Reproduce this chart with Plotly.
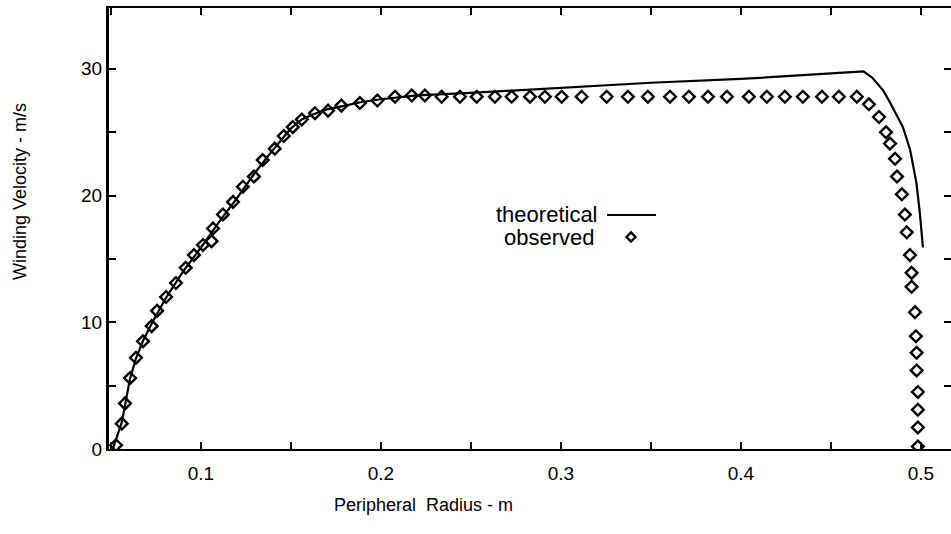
import plotly.graph_objects as go

# theoretical winding velocity curve
theo_radius = [0.051, 0.0535, 0.056, 0.058, 0.0605, 0.064, 0.068, 0.073, 0.080, 0.090,
               0.100, 0.110, 0.120, 0.130, 0.140, 0.150, 0.156, 0.162, 0.170, 0.180,
               0.190, 0.200, 0.220, 0.250, 0.300, 0.350, 0.400, 0.450, 0.462, 0.468,
               0.473, 0.479, 0.483, 0.490, 0.494, 0.4975, 0.4994, 0.5011]
theo_velocity = [0.0, 1.0, 2.1, 3.6, 5.5, 7.2, 8.6, 10.0, 11.8, 14.0,
                 15.9, 17.9, 19.8, 21.8, 23.6, 25.3, 26.0, 26.4, 26.8, 27.1,
                 27.4, 27.6, 27.9, 28.1, 28.5, 28.9, 29.2, 29.6, 29.75, 29.8,
                 29.3, 28.3, 27.3, 25.4, 23.6, 21.0, 18.6, 15.9]

# observed points
obs_radius = [0.0528, 0.0560, 0.0578, 0.0606, 0.0639, 0.0678, 0.0726, 0.0756, 0.0806, 0.0861,
              0.0915, 0.0961, 0.1011, 0.1059, 0.1067, 0.1122, 0.1178, 0.1233, 0.1294, 0.1343,
              0.1410, 0.1460, 0.1510, 0.1560, 0.1633, 0.1706, 0.1780, 0.1883, 0.1980, 0.2078,
              0.2171, 0.2244, 0.2337, 0.2439, 0.2532, 0.2633, 0.2726, 0.2828, 0.2911, 0.3004,
              0.3115, 0.3254, 0.3372, 0.3483, 0.3606, 0.3711, 0.3817, 0.3922, 0.4044, 0.4144,
              0.4244, 0.4344, 0.4450, 0.4544, 0.4644, 0.4711, 0.4767, 0.4806, 0.4828, 0.4856,
              0.4867, 0.4894, 0.4911, 0.4921, 0.4939, 0.4948, 0.4948, 0.4967, 0.4972, 0.4976,
              0.4976, 0.4983, 0.4983, 0.4983, 0.4983]
obs_velocity = [0.3, 2.0, 3.6, 5.6, 7.2, 8.5, 9.7, 10.9, 12.0, 13.1,
                14.3, 15.3, 16.1, 16.4, 17.4, 18.5, 19.5, 20.7, 21.5, 22.8,
                23.7, 24.7, 25.4, 26.0, 26.5, 26.7, 27.1, 27.3, 27.5, 27.8,
                27.9, 27.9, 27.8, 27.8, 27.8, 27.8, 27.8, 27.8, 27.8, 27.8,
                27.8, 27.8, 27.8, 27.8, 27.8, 27.8, 27.8, 27.8, 27.8, 27.8,
                27.8, 27.8, 27.8, 27.8, 27.8, 27.2, 26.2, 25.0, 24.1, 22.9,
                21.5, 20.1, 18.5, 17.1, 15.3, 13.9, 12.8, 10.8, 8.9, 7.6,
                6.2, 4.5, 3.1, 1.7, 0.2]

x_ticks = [0.05, 0.1, 0.15, 0.2, 0.25, 0.3, 0.35, 0.4, 0.45, 0.5]
x_labels = ["", "0.1", "", "0.2", "", "0.3", "", "0.4", "", "0.5"]
y_ticks = [0, 5, 10, 15, 20, 25, 30]
y_labels = ["0", "", "10", "", "20", "", "30"]

W, H = 951, 534
L, R, T, B = 109, 0, 8, 85
FONT = "Liberation Sans, Arial, sans-serif"


def px(x, y):
    """pixel position -> paper coords (for legend keys / labels)"""
    return (x - L) / (W - L - R), (H - B - y) / (H - T - B)


fig = go.Figure()
fig.add_trace(go.Scatter(x=theo_radius, y=theo_velocity, mode='lines',
                         line=dict(color='black', width=2.2), showlegend=False))
fig.add_trace(go.Scatter(x=obs_radius, y=obs_velocity, mode='markers',
                         marker=dict(symbol='diamond-open', size=9, color='black',
                                     line=dict(width=2.4, color='black')),
                         showlegend=False))

axis_common = dict(showline=True, linecolor='black', mirror='ticks',
                   ticks='inside', ticklen=7, tickwidth=1.5, tickcolor='black',
                   showgrid=False, zeroline=False, automargin=False,
                   tickfont=dict(family=FONT, size=19, color='black'))

fig.update_layout(
    width=W, height=H,
    margin=dict(l=L, r=R, t=T, b=B),
    plot_bgcolor='white', paper_bgcolor='white',
    xaxis=dict(range=[0.0489, 0.5167], tickvals=x_ticks, ticktext=x_labels,
               linewidth=2, ticklabelstandoff=6, **axis_common),
    yaxis=dict(range=[0, 34.8], tickvals=y_ticks, ticktext=y_labels,
               linewidth=3, **axis_common),
)

# axis titles
ax, ay = px(423, 505)
fig.add_annotation(x=ax, y=ay, xref='paper', yref='paper', text="Peripheral  Radius - m",
                   showarrow=False, xanchor='center', yanchor='middle',
                   font=dict(family=FONT, size=18, color='black'))
ax, ay = px(20, 192)
fig.add_annotation(x=ax, y=ay, xref='paper', yref='paper', text="Winding Velocity - m/s",
                   showarrow=False, textangle=-90, xanchor='center', yanchor='middle',
                   font=dict(family=FONT, size=18, color='black'))

# legend (text on the left, key on the right)
ax, ay = px(600, 214)
fig.add_annotation(x=ax, y=ay, xref='paper', yref='paper', text="theoretical",
                   showarrow=False, xanchor='right', yanchor='middle',
                   font=dict(family=FONT, size=22, color='black'))
ax, ay = px(597, 237)
fig.add_annotation(x=ax, y=ay, xref='paper', yref='paper', text="observed",
                   showarrow=False, xanchor='right', yanchor='middle',
                   font=dict(family=FONT, size=22, color='black'))
x0, y0 = px(607, 215)
x1, _ = px(656, 215)
fig.add_shape(type='line', xref='paper', yref='paper', x0=x0, x1=x1, y0=y0, y1=y0,
              line=dict(color='black', width=2.2))
cx, cy = px(631, 237)
fig.add_shape(type='path', xref='paper', yref='paper', xsizemode='pixel', ysizemode='pixel',
              xanchor=cx, yanchor=cy, path="M -4.5 0 L 0 4.5 L 4.5 0 L 0 -4.5 Z",
              line=dict(color='black', width=2.4))

# page body has an 8px default margin; drop it so the figure sits at 0,0
fig.write_html("out.html", config={'displayModeBar': False},
               post_script="document.body.style.margin='0';")
